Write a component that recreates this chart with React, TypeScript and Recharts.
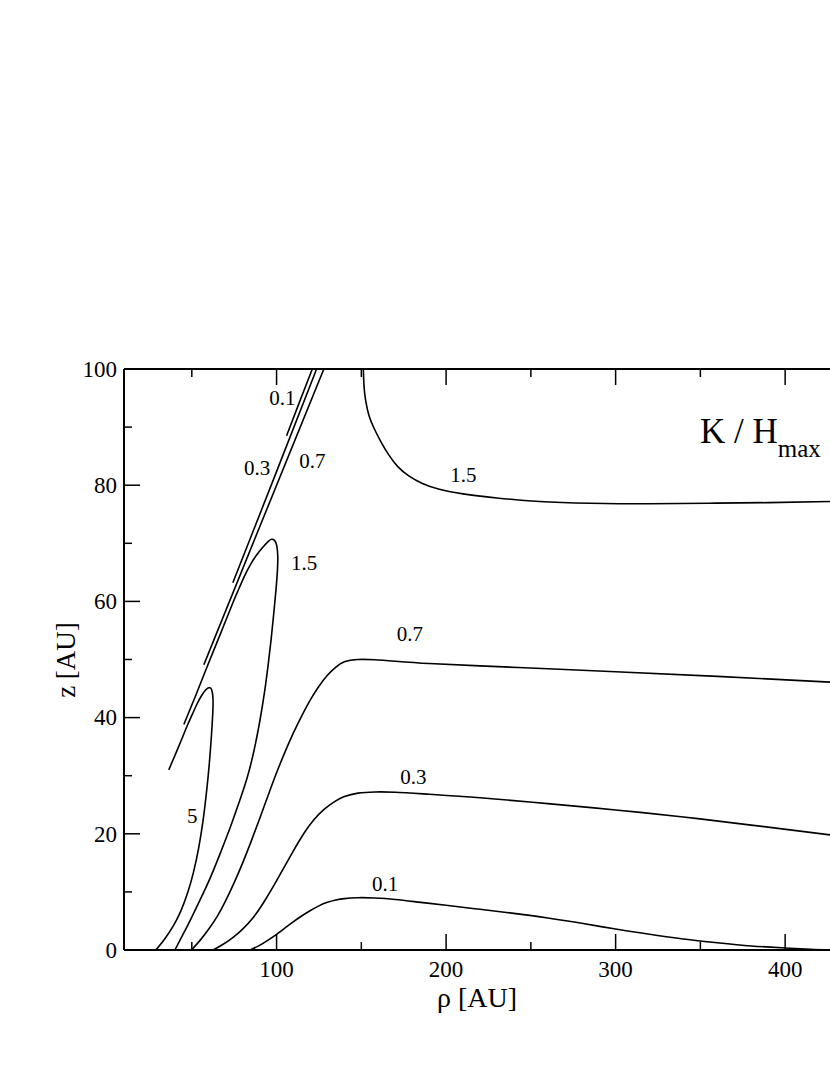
import React from 'react';
import { LineChart, Line, XAxis, YAxis, ReferenceDot } from 'recharts';

const FONT = '"Liberation Serif", "Times New Roman", serif';

type Pt = { x: number; z: number };
const pts = (arr: number[][]): Pt[] => arr.map(([x, z]) => ({ x, z }));

// axis ticks (major ones get labels)
const xTicks = [50, 100, 150, 200, 250, 300, 350, 400];
const yTicks = [0, 10, 20, 30, 40, 50, 60, 70, 80, 90, 100];

// contour K/Hmax = 0.1
const k01Lower = pts([
  [84.5, 0], [90, 0.8], [95, 1.7], [100, 2.7], [105, 3.8], [110, 4.9], [115, 5.9], [120, 6.8],
  [125, 7.6], [130, 8.2], [135, 8.6], [140, 8.85], [148, 9.0], [158, 8.95], [170, 8.7], [185, 8.2],
  [200, 7.7], [220, 7.0], [240, 6.3], [260, 5.5], [280, 4.6], [300, 3.6], [320, 2.7], [340, 1.9],
  [360, 1.25], [380, 0.7], [400, 0.35], [415, 0.12], [427, 0],
]);
const k01Upper = pts([[105.9, 88.5], [113.5, 94.3], [121.1, 100]]);

// contour 0.3
const k03Lower = pts([
  [62.6, 0], [68, 0.9], [74, 2.1], [80, 3.6], [86, 5.5], [92, 8.0], [98, 10.9], [104, 14.0],
  [110, 17.1], [116, 20.0], [122, 22.4], [128, 24.2], [134, 25.5], [140, 26.4], [148, 27.0],
  [158, 27.2], [170, 27.15], [190, 26.8], [220, 26.2], [260, 25.2], [300, 24.1], [340, 22.9],
  [380, 21.5], [427, 19.8],
]);
const k03Upper = pts([[74.2, 63.2], [99, 81.6], [123.6, 100]]);

// contour 0.7
const k07Lower = pts([
  [49.8, 0], [55, 1.7], [60, 3.6], [65, 5.8], [70, 8.5], [75, 11.6], [80, 15.0], [85, 18.7],
  [90, 22.6], [95, 26.6], [100, 30.5], [105, 34.1], [110, 37.4], [115, 40.4], [120, 43.1],
  [125, 45.4], [130, 47.3], [135, 48.7], [140, 49.6], [148, 50.0], [158, 49.95], [170, 49.7],
  [190, 49.3], [220, 48.9], [260, 48.4], [300, 47.9], [360, 47.1], [427, 46.1],
]);
const k07Upper = pts([[57.1, 49.1], [92.5, 74.6], [127.9, 100]]);

// contour 1.5 (closed at the lower-left boundary)
const k15Loop = pts([
  [40, 0], [44.5, 2.5], [49.2, 5.2], [55, 8.7], [61, 12.5], [67, 16.8], [72.8, 21.2], [78, 25.5],
  [82.6, 29.6], [86.6, 34.2], [90, 39.2], [92.8, 44.2], [95, 49.0], [96.8, 53.5], [98.3, 57.8],
  [99.6, 61.8], [100.5, 65.3], [100.7, 67.8], [100.1, 69.6], [98.8, 70.5], [97, 70.7],
  [95, 70.3], [91.5, 69.2], [88, 67.9], [84.5, 66.3], [81, 64.3], [77.5, 62], [74, 59.6],
  [67, 54.5], [59.5, 49.1], [52, 43.6], [45.3, 38.8],
]);
const k15Upper = pts([
  [151.2, 100], [151.6, 97], [152.6, 94.5], [154.5, 92], [157.5, 89.8], [161.5, 87.5], [166, 85.3],
  [171.5, 83.2], [178, 81.6], [186, 80.3], [196, 79.3], [210, 78.5], [230, 77.8], [255, 77.2],
  [285, 76.9], [320, 76.8], [355, 76.9], [390, 77.0], [427, 77.2],
]);

// contour 5
const k5Loop = pts([
  [28.8, 0], [34, 1.9], [39, 4.1], [43.5, 6.7], [47.5, 9.8], [51, 13.4], [54, 17.5], [56.5, 22],
  [58.6, 27], [60.3, 32], [61.6, 37], [62.4, 41], [62.5, 43.2], [62, 44.5], [61, 45.1],
  [59.6, 45.1], [58, 44.7], [55.8, 43.8], [53, 42.3], [50.2, 40.5], [47.3, 38.6], [44.2, 36.4],
  [40.5, 33.8], [36.4, 31.0],
]);

const contours = [k01Lower, k01Upper, k03Lower, k03Upper, k07Lower, k07Upper, k15Loop, k15Upper, k5Loop];

// level labels placed next to the curves
const labelText = ['0.1', '0.3', '0.7', '1.5', '1.5', '0.7', '0.3', '0.1', '5'];
const labelX = [103.4, 88.6, 121.1, 116.2, 210.2, 178.7, 180.7, 164, 50.3];
const labelZ = [95.1, 83.1, 84.2, 66.7, 81.9, 54.5, 29.8, 11.5, 23.2];

const BottomTick = (props: any) => {
  const { x, y, payload } = props;
  const major = payload.value % 100 === 0;
  return (
    <g>
      <line x1={x} y1={y} x2={x} y2={y - (major ? 16 : 8)} stroke="#000" strokeWidth={1.5} />
      {major && (
        <text x={x} y={y + 27} textAnchor="middle" fontSize={23} fontFamily={FONT} fill="#000">
          {payload.value}
        </text>
      )}
    </g>
  );
};

const TopTick = (props: any) => {
  const { x, y, payload } = props;
  const major = payload.value % 100 === 0;
  return <line x1={x} y1={y} x2={x} y2={y + (major ? 16 : 8)} stroke="#000" strokeWidth={1.5} />;
};

const LeftTick = (props: any) => {
  const { x, y, payload } = props;
  const major = payload.value % 20 === 0;
  return (
    <g>
      <line x1={x} y1={y} x2={x + (major ? 16 : 8)} y2={y} stroke="#000" strokeWidth={1.5} />
      {major && (
        <text x={x - 7} y={y} dy="0.34em" textAnchor="end" fontSize={23} fontFamily={FONT} fill="#000">
          {payload.value}
        </text>
      )}
    </g>
  );
};

const LevelLabel = (text: string) => (props: any) => {
  const vb = props.viewBox || {};
  const cx = vb.cx ?? (vb.x ?? 0) + (vb.width ?? 0) / 2;
  const cy = vb.cy ?? (vb.y ?? 0) + (vb.height ?? 0) / 2;
  return (
    <text x={cx} y={cy} dy="0.35em" textAnchor="middle" fontSize={21} fontFamily={FONT} fill="#000">
      {text}
    </text>
  );
};

export default function App() {
  return (
    <div style={{ position: 'absolute', left: 0, top: 0, width: 830, height: 1075, overflow: 'hidden', background: '#fff' }}>
      <LineChart width={850} height={1075} margin={{ top: 368, right: 14, bottom: 124, left: 123 }}>
        <XAxis
          dataKey="x"
          type="number"
          domain={[10, 430]}
          ticks={xTicks}
          interval={0}
          height={1}
          tickSize={0}
          tickMargin={0}
          tickLine={false}
          tick={BottomTick}
          axisLine={{ stroke: '#000', strokeWidth: 2 }}
          allowDataOverflow
        />
        <XAxis
          xAxisId="top"
          orientation="top"
          dataKey="x"
          type="number"
          domain={[10, 430]}
          ticks={xTicks}
          interval={0}
          height={1}
          tickSize={0}
          tickMargin={0}
          tickLine={false}
          tick={TopTick}
          axisLine={{ stroke: '#000', strokeWidth: 2 }}
          allowDataOverflow
        />
        <YAxis
          type="number"
          domain={[0, 100]}
          ticks={yTicks}
          interval={0}
          width={1}
          tickSize={0}
          tickMargin={0}
          tickLine={false}
          tick={LeftTick}
          axisLine={{ stroke: '#000', strokeWidth: 2 }}
          allowDataOverflow
        />
        {contours.map((d, i) => (
          <Line
            key={i}
            data={d}
            dataKey="z"
            type="natural"
            stroke="#000"
            strokeWidth={1.6}
            dot={false}
            activeDot={false}
            isAnimationActive={false}
          />
        ))}
        {labelText.map((t, i) => (
          <ReferenceDot
            key={'l' + i}
            x={labelX[i]}
            y={labelZ[i]}
            r={0}
            fill="none"
            stroke="none"
            label={LevelLabel(t)}
          />
        ))}
      </LineChart>
      <svg width={830} height={1075} style={{ position: 'absolute', left: 0, top: 0, pointerEvents: 'none' }}>
        <text x={477} y={1007} textAnchor="middle" fontSize={28} fontFamily={FONT} fill="#000">
          ρ [AU]
        </text>
        <text
          x={0}
          y={0}
          transform="translate(75 660) rotate(-90)"
          textAnchor="middle"
          fontSize={27}
          fontFamily={FONT}
          fill="#000"
        >
          z [AU]
        </text>
        <text x={700} y={443} fontSize={35} fontFamily={FONT} fill="#000">
          K / H
          <tspan dy={14} fontSize={25}>max</tspan>
        </text>
      </svg>
    </div>
  );
}
